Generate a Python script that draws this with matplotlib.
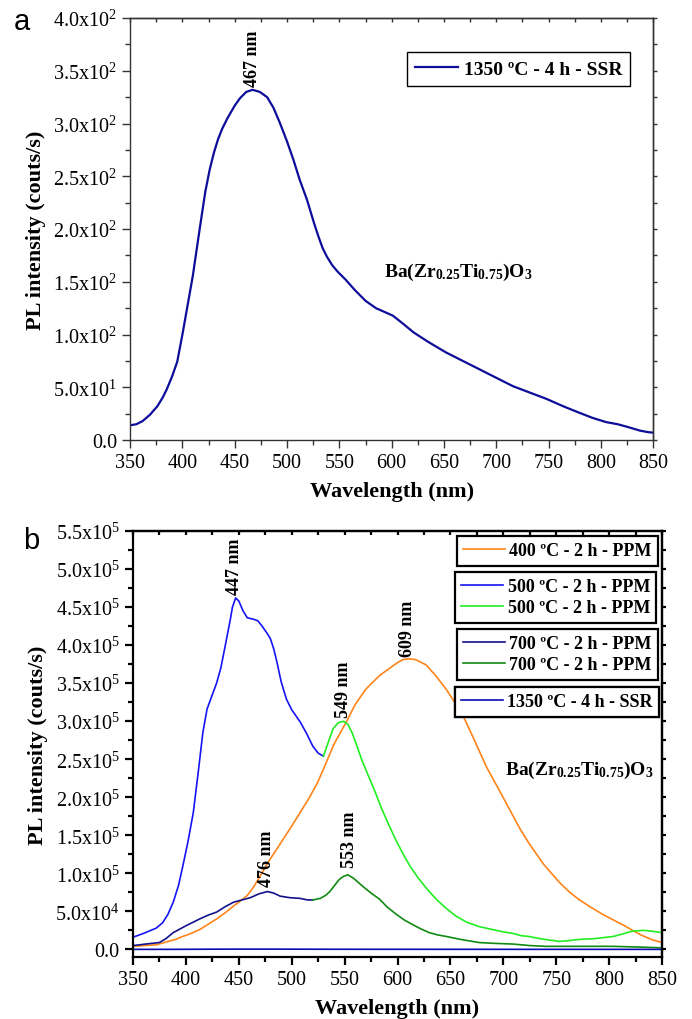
import matplotlib
matplotlib.use('Agg')
import matplotlib.pyplot as plt
from matplotlib.ticker import MultipleLocator

plt.rcParams['font.family'] = ['Liberation Serif', 'DejaVu Serif']
plt.rcParams['mathtext.fontset'] = 'custom'
plt.rcParams['mathtext.rm'] = 'Liberation Serif'
plt.rcParams['mathtext.bf'] = 'Liberation Serif:bold'
plt.rcParams['mathtext.it'] = 'Liberation Serif:italic'

# --- panel a: 1350 ºC - 4 h - SSR (counts/s) ---
wl_ssr = [350, 356, 362, 369, 376, 381, 385, 390, 395, 400, 405, 410, 415, 418, 422, 426,
          430, 434, 438, 443, 450, 455, 461, 467, 474, 481, 487, 493, 500, 506, 512, 519,
          526, 530, 534, 538, 543, 548, 556, 565, 575, 585, 601, 610, 621, 635, 652, 668,
          684, 700, 716, 732, 748, 764, 779, 792, 805, 816, 827, 837, 845, 850]
pl_ssr = [14, 15, 18, 24, 32, 40, 48, 60, 74, 100, 128, 156, 190, 210, 236, 256,
          272, 285, 295, 305, 317, 324, 330, 332, 330, 325, 315, 301, 283, 266, 247, 228,
          205, 193, 182, 174, 166, 160, 152, 142, 132, 125, 118, 111, 102, 93, 83, 75,
          67, 59, 51, 45, 39, 32, 26, 21, 17, 15, 12, 9, 7.5, 7]

# --- panel b ---
# 400 ºC - 2 h - PPM
wl_400 = [350, 360, 372, 382, 390, 397, 405, 413, 421, 429, 437, 445, 451, 458, 464, 470,
          477, 485, 492, 500, 508, 516, 524, 530, 540, 552, 560, 570, 583, 592, 600, 605,
          610, 617, 627, 636, 646, 654, 662, 673, 684, 697, 709, 716, 724, 738, 753, 762,
          771, 782, 794, 809, 816, 822, 830, 840, 850]
pl_400 = [0.4e4, 0.5e4, 0.6e4, 1.0e4, 1.3e4, 1.7e4, 2.1e4, 2.6e4, 3.3e4, 4.0e4, 4.8e4, 5.7e4,
          6.3e4, 7.1e4, 8.2e4, 9.6e4, 1.13e5, 1.3e5, 1.45e5, 1.62e5, 1.8e5, 1.98e5, 2.18e5,
          2.37e5, 2.7e5, 3.0e5, 3.22e5, 3.42e5, 3.6e5, 3.69e5, 3.77e5, 3.81e5, 3.82e5,
          3.81e5, 3.74e5, 3.6e5, 3.42e5, 3.25e5, 3.07e5, 2.74e5, 2.4e5, 2.07e5, 1.76e5,
          1.58e5, 1.4e5, 1.12e5, 8.8e4, 7.6e4, 6.6e4, 5.6e4, 4.6e4, 3.5e4, 3.0e4, 2.5e4,
          1.9e4, 1.3e4, 0.9e4]

# 500 ºC - 2 h - PPM, blue part and green part
wl_500a = [350, 360, 372, 378, 383, 388, 393, 397, 402, 407, 412, 416, 420, 425, 429, 433,
           437, 442, 444, 447, 450, 454, 458, 464, 468, 472, 477, 480, 483, 486, 490, 495,
           500, 508, 514, 520, 525, 530]
pl_500a = [1.6e4, 2.1e4, 2.8e4, 3.5e4, 4.6e4, 6.2e4, 8.4e4, 1.09e5, 1.42e5, 1.8e5, 2.37e5,
           2.85e5, 3.16e5, 3.35e5, 3.5e5, 3.7e5, 3.98e5, 4.34e5, 4.5e5, 4.62e5, 4.58e5,
           4.45e5, 4.36e5, 4.34e5, 4.32e5, 4.25e5, 4.15e5, 4.08e5, 3.95e5, 3.78e5, 3.52e5,
           3.29e5, 3.15e5, 2.99e5, 2.84e5, 2.67e5, 2.58e5, 2.54e5]
wl_500b = [530, 534, 539, 544, 549, 553, 557, 561, 566, 571, 578, 585, 592, 598, 605, 612,
           620, 630, 638, 646, 655, 665, 677, 690, 700, 709, 717, 724, 735, 745, 753, 762,
           771, 785, 795, 804, 812, 822, 832, 840, 850]
pl_500b = [2.54e5, 2.7e5, 2.9e5, 2.98e5, 3.0e5, 2.96e5, 2.85e5, 2.7e5, 2.5e5, 2.33e5, 2.1e5,
           1.85e5, 1.63e5, 1.45e5, 1.26e5, 1.09e5, 9.3e4, 7.6e4, 6.4e4, 5.4e4, 4.4e4, 3.6e4,
           3.0e4, 2.6e4, 2.3e4, 2.1e4, 1.8e4, 1.7e4, 1.4e4, 1.2e4, 1.05e4, 1.15e4, 1.3e4,
           1.4e4, 1.55e4, 1.7e4, 2.0e4, 2.4e4, 2.5e4, 2.4e4, 2.2e4]

# 700 ºC - 2 h - PPM, navy part and dark green part
wl_700a = [350, 362, 375, 381, 388, 400, 413, 421, 429, 437, 445, 453, 461, 469, 477, 483,
           489, 498, 508, 515, 520]
pl_700a = [0.5e4, 0.7e4, 0.9e4, 1.4e4, 2.2e4, 3.1e4, 4.0e4, 4.5e4, 4.9e4, 5.6e4, 6.2e4,
           6.5e4, 6.8e4, 7.3e4, 7.6e4, 7.4e4, 7.0e4, 6.8e4, 6.7e4, 6.5e4, 6.5e4]
wl_700b = [520, 527, 532, 536, 541, 545, 549, 553, 558, 563, 567, 575, 583, 590, 598, 606,
           615, 622, 630, 638, 646, 660, 677, 690, 709, 725, 740, 770, 803, 830, 850]
pl_700b = [6.5e4, 6.7e4, 7.1e4, 7.6e4, 8.5e4, 9.2e4, 9.6e4, 9.8e4, 9.4e4, 8.8e4, 8.3e4,
           7.4e4, 6.6e4, 5.6e4, 4.7e4, 3.9e4, 3.2e4, 2.7e4, 2.2e4, 1.9e4, 1.7e4, 1.3e4,
           0.9e4, 0.8e4, 0.7e4, 0.5e4, 0.4e4, 0.4e4, 0.4e4, 0.3e4, 0.2e4]

ya_ticks = [0, 50, 100, 150, 200, 250, 300, 350, 400]
ya_labels = ['0.0', '5.0x10^{1}', '1.0x10^{2}', '1.5x10^{2}', '2.0x10^{2}', '2.5x10^{2}',
             '3.0x10^{2}', '3.5x10^{2}', '4.0x10^{2}']
yb_ticks = [0, 0.5e5, 1e5, 1.5e5, 2e5, 2.5e5, 3e5, 3.5e5, 4e5, 4.5e5, 5e5, 5.5e5]
yb_labels = ['0.0', '5.0x10^{4}', '1.0x10^{5}', '1.5x10^{5}', '2.0x10^{5}', '2.5x10^{5}',
             '3.0x10^{5}', '3.5x10^{5}', '4.0x10^{5}', '4.5x10^{5}', '5.0x10^{5}', '5.5x10^{5}']
x_ticks = [350, 400, 450, 500, 550, 600, 650, 700, 750, 800, 850]

formula = r'$\mathbf{Ba(Zr_{0.25}Ti_{0.75})O_3}$'


def style_axes(ax, yticks, ylabels, ymin, ymax, yminor, spine_lw, spine_c):
    ax.set_xlim(350, 850)
    ax.set_ylim(ymin, ymax)
    ax.set_xticks(x_ticks)
    ax.xaxis.set_minor_locator(MultipleLocator(25))
    ax.set_yticks(yticks)
    ax.set_yticklabels(['0.0' if l == '0.0' else r'$\mathregular{' + l + '}$' for l in ylabels])
    ax.yaxis.set_minor_locator(MultipleLocator(yminor))
    ax.tick_params(which='both', direction='out', labelsize=14.5, colors=spine_c,
                   labelcolor='black', width=spine_lw, top=False, right=False)
    ax.tick_params(which='major', length=6)
    ax.tick_params(which='minor', length=3.5)
    for s in ax.spines.values():
        s.set_linewidth(spine_lw)
        s.set_color(spine_c)
    top = ax.secondary_xaxis('top')
    top.xaxis.set_major_locator(MultipleLocator(25))
    top.tick_params(direction='in', length=3, labeltop=False, width=spine_lw, colors=spine_c)
    top.spines['top'].set_linewidth(spine_lw)
    top.spines['top'].set_color(spine_c)
    right = ax.secondary_yaxis('right')
    right.yaxis.set_major_locator(MultipleLocator(yminor))
    right.tick_params(direction='out', length=3, labelright=False, width=spine_lw, colors=spine_c)
    right.spines['right'].set_linewidth(spine_lw)
    right.spines['right'].set_color(spine_c)
    ax.set_xlabel('Wavelength (nm)', fontsize=16, fontweight='bold', labelpad=6)
    ax.set_ylabel('PL intensity (couts/s)', fontsize=16, fontweight='bold', labelpad=5)


fig = plt.figure(figsize=(6.92, 10.2), dpi=100)

# ---------- panel a ----------
ax1 = fig.add_axes([0.188, 0.5676, 0.756, 0.4137])
ax1.plot(wl_ssr, pl_ssr, color='#0d0d9a', lw=1.6, label='1350 ºC - 4 h - SSR')
style_axes(ax1, ya_ticks, ya_labels, 0, 400, 25, 1.0, '#333333')
ax1.text(467, 336, '467 nm', rotation=90, ha='center', va='bottom', fontsize=13, fontweight='bold')
ax1.text(593, 160, formula, fontsize=14, ha='left', va='center')
leg = ax1.legend(loc='upper right', bbox_to_anchor=(0.956, 0.919), borderaxespad=0,
                 fancybox=False, edgecolor='black', framealpha=1, borderpad=0.42,
                 handlelength=2.2, handletextpad=0.3, prop={'weight': 'bold', 'size': 14})
leg.get_frame().set_linewidth(1.0)
fig.text(0.02, 0.9706, 'a', fontsize=21, family='Liberation Sans', va='baseline')

# ---------- panel b ----------
ax2 = fig.add_axes([0.1922, 0.0608, 0.7645, 0.4176])
l400, = ax2.plot(wl_400, pl_400, color='#ff8419', lw=1.2, label='400 ºC - 2 h - PPM')
l500a, = ax2.plot(wl_500a, pl_500a, color='#1414f5', lw=1.2, label='500 ºC - 2 h - PPM')
l500b, = ax2.plot(wl_500b, pl_500b, color='#22ee22', lw=1.2, label='500 ºC - 2 h - PPM')
l700a, = ax2.plot(wl_700a, pl_700a, color='#12128a', lw=1.2, label='700 ºC - 2 h - PPM')
l700b, = ax2.plot(wl_700b, pl_700b, color='#118a11', lw=1.2, label='700 ºC - 2 h - PPM')
lssr, = ax2.plot(wl_ssr, pl_ssr, color='#0a0ab4', lw=1.2, label='1350 ºC - 4 h - SSR')
style_axes(ax2, yb_ticks, yb_labels, -1e4, 5.5e5, 0.25e5, 1.6, 'black')

ax2.text(446, 4.67e5, '447 nm', rotation=90, ha='center', va='bottom', fontsize=13, fontweight='bold')
ax2.text(549, 3.05e5, '549 nm', rotation=90, ha='center', va='bottom', fontsize=13, fontweight='bold')
ax2.text(609, 3.86e5, '609 nm', rotation=90, ha='center', va='bottom', fontsize=13, fontweight='bold')
ax2.text(476, 8.3e4, '476 nm', rotation=90, ha='center', va='bottom', fontsize=13, fontweight='bold')
ax2.text(555, 1.08e5, '553 nm', rotation=90, ha='center', va='bottom', fontsize=13, fontweight='bold')
ax2.text(702, 2.37e5, formula, fontsize=14, ha='left', va='center')

groups = [([l400], 0.992, 0.988), ([l500a, l500b], 0.989, 0.904),
          ([l700a, l700b], 0.992, 0.770), ([lssr], 0.994, 0.634)]
for handles, gx, gy in groups:
    lg = ax2.legend(handles=handles, loc='upper right', bbox_to_anchor=(gx, gy),
                    borderaxespad=0, fancybox=False, edgecolor='black', framealpha=1,
                    borderpad=0.35, labelspacing=0.22, handlelength=2.3, handletextpad=0.25,
                    prop={'weight': 'bold', 'size': 13})
    lg.get_frame().set_linewidth(1.6)
    ax2.add_artist(lg)
fig.text(0.033, 0.4618, 'b', fontsize=21, family='Liberation Sans', va='baseline')

fig.savefig('out.png', dpi=100)
